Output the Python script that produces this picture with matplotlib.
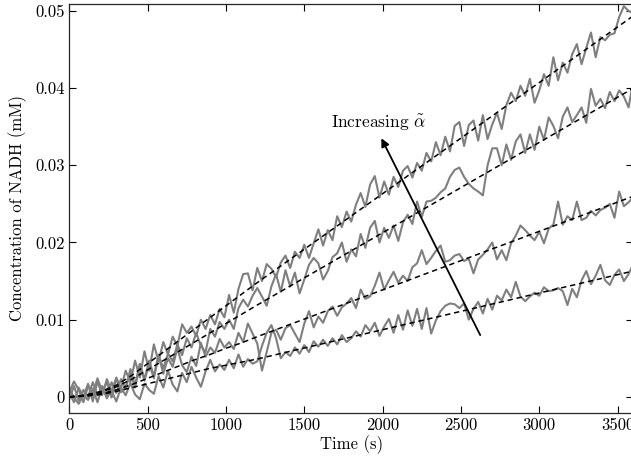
import numpy as np
import matplotlib
matplotlib.use("Agg")
import matplotlib.pyplot as plt

plt.rcParams['font.family'] = 'serif'
plt.rcParams['font.serif'] = ['cmr10']
plt.rcParams['mathtext.fontset'] = 'cm'
plt.rcParams['axes.formatter.use_mathtext'] = True
plt.rcParams['font.size'] = 12

# measured traces, sampled every 30 s
t = np.arange(0, 3601, 30)

nadh_a = [0.0005, -0.0007, 0.0012, 0.0000, 0.0017, -0.0006, 0.0020, 0.0002, 0.0023, 0.0007,
          0.0025, 0.0011, 0.0034, 0.0019, 0.0047, 0.0025, 0.0059, 0.0034, 0.0068, 0.0046,
          0.0071, 0.0055, 0.0078, 0.0066, 0.0094, 0.0083, 0.0091, 0.0079, 0.0100, 0.0088,
          0.0106, 0.0094, 0.0114, 0.0103, 0.0132, 0.0109, 0.0140, 0.0159, 0.0160, 0.0138,
          0.0167, 0.0150, 0.0172, 0.0166, 0.0155, 0.0174, 0.0183, 0.0167, 0.0188, 0.0180,
          0.0197, 0.0180, 0.0199, 0.0217, 0.0196, 0.0216, 0.0203, 0.0234, 0.0220, 0.0240,
          0.0227, 0.0249, 0.0264, 0.0246, 0.0275, 0.0286, 0.0258, 0.0279, 0.0262, 0.0285,
          0.0272, 0.0293, 0.0299, 0.0284, 0.0303, 0.0293, 0.0316, 0.0305, 0.0330, 0.0313,
          0.0337, 0.0318, 0.0351, 0.0356, 0.0325, 0.0352, 0.0358, 0.0332, 0.0365, 0.0334,
          0.0353, 0.0368, 0.0347, 0.0378, 0.0394, 0.0383, 0.0403, 0.0390, 0.0412, 0.0381,
          0.0397, 0.0418, 0.0403, 0.0440, 0.0410, 0.0433, 0.0420, 0.0444, 0.0457, 0.0431,
          0.0452, 0.0472, 0.0440, 0.0466, 0.0462, 0.0469, 0.0471, 0.0492, 0.0506, 0.0500,
          0.0497]

nadh_b = [-0.0003, 0.0014, -0.0005, 0.0009, 0.0000, 0.0019, 0.0002, 0.0014, -0.0002, 0.0019,
          0.0005, 0.0023, 0.0011, 0.0036, 0.0015, 0.0043, 0.0023, 0.0047, 0.0027, 0.0054,
          0.0037, 0.0056, 0.0046, 0.0068, 0.0054, 0.0076, 0.0064, 0.0083, 0.0066, 0.0058,
          0.0088, 0.0078, 0.0097, 0.0088, 0.0100, 0.0088, 0.0115, 0.0126, 0.0117, 0.0131,
          0.0141, 0.0130, 0.0118, 0.0143, 0.0159, 0.0136, 0.0164, 0.0143, 0.0161, 0.0134,
          0.0152, 0.0171, 0.0180, 0.0173, 0.0152, 0.0163, 0.0181, 0.0186, 0.0200, 0.0175,
          0.0191, 0.0182, 0.0211, 0.0193, 0.0219, 0.0228, 0.0200, 0.0219, 0.0206, 0.0222,
          0.0202, 0.0226, 0.0236, 0.0224, 0.0253, 0.0233, 0.0253, 0.0254, 0.0258, 0.0265,
          0.0270, 0.0285, 0.0294, 0.0297, 0.0285, 0.0276, 0.0270, 0.0266, 0.0261, 0.0300,
          0.0322, 0.0322, 0.0300, 0.0327, 0.0307, 0.0331, 0.0340, 0.0316, 0.0340, 0.0320,
          0.0350, 0.0333, 0.0362, 0.0351, 0.0335, 0.0363, 0.0375, 0.0356, 0.0365, 0.0375,
          0.0355, 0.0399, 0.0377, 0.0386, 0.0374, 0.0395, 0.0383, 0.0397, 0.0389, 0.0375,
          0.0409]

nadh_c = [0.0006, 0.0020, 0.0009, -0.0007, 0.0014, 0.0004, 0.0024, 0.0007, 0.0019, -0.0001,
          0.0024, 0.0006, 0.0012, 0.0031, 0.0012, 0.0041, 0.0021, 0.0043, 0.0024, 0.0054,
          0.0030, 0.0050, 0.0039, 0.0063, 0.0041, 0.0032, 0.0052, 0.0040, 0.0070, 0.0052,
          0.0064, 0.0057, 0.0075, 0.0064, 0.0071, 0.0062, 0.0083, 0.0071, 0.0095, 0.0082,
          0.0069, 0.0034, 0.0058, 0.0083, 0.0087, 0.0074, 0.0089, 0.0093, 0.0082, 0.0071,
          0.0095, 0.0111, 0.0090, 0.0104, 0.0096, 0.0111, 0.0117, 0.0105, 0.0116, 0.0121,
          0.0128, 0.0115, 0.0139, 0.0127, 0.0130, 0.0144, 0.0161, 0.0139, 0.0151, 0.0162,
          0.0148, 0.0157, 0.0150, 0.0168, 0.0173, 0.0190, 0.0172, 0.0180, 0.0189, 0.0196,
          0.0175, 0.0177, 0.0183, 0.0185, 0.0176, 0.0179, 0.0160, 0.0178, 0.0184, 0.0191,
          0.0200, 0.0178, 0.0190, 0.0177, 0.0199, 0.0209, 0.0222, 0.0216, 0.0209, 0.0203,
          0.0214, 0.0199, 0.0218, 0.0223, 0.0253, 0.0223, 0.0234, 0.0229, 0.0253, 0.0229,
          0.0232, 0.0241, 0.0235, 0.0242, 0.0245, 0.0250, 0.0232, 0.0266, 0.0247, 0.0252,
          0.0259]

nadh_d = [0.0012, -0.0001, -0.0009, 0.0002, -0.0004, 0.0011, -0.0007, 0.0013, -0.0001, 0.0008,
          -0.0006, 0.0012, 0.0002, 0.0018, 0.0003, -0.0003, 0.0017, 0.0009, 0.0004, 0.0027,
          0.0012, 0.0034, 0.0016, 0.0007, 0.0031, 0.0019, 0.0039, 0.0025, 0.0013, 0.0033,
          0.0048, 0.0033, 0.0042, 0.0035, 0.0048, 0.0037, 0.0055, 0.0039, 0.0049, 0.0043,
          0.0046, 0.0066, 0.0083, 0.0093, 0.0076, 0.0050, 0.0058, 0.0053, 0.0064, 0.0056,
          0.0067, 0.0058, 0.0072, 0.0065, 0.0074, 0.0066, 0.0076, 0.0068, 0.0080, 0.0071,
          0.0076, 0.0085, 0.0078, 0.0093, 0.0085, 0.0096, 0.0079, 0.0091, 0.0101, 0.0083,
          0.0106, 0.0087, 0.0112, 0.0092, 0.0114, 0.0088, 0.0115, 0.0082, 0.0099, 0.0111,
          0.0118, 0.0121, 0.0120, 0.0115, 0.0121, 0.0100, 0.0114, 0.0123, 0.0108, 0.0127,
          0.0113, 0.0131, 0.0125, 0.0139, 0.0129, 0.0149, 0.0130, 0.0124, 0.0130, 0.0135,
          0.0131, 0.0142, 0.0137, 0.0138, 0.0141, 0.0137, 0.0119, 0.0140, 0.0129, 0.0151,
          0.0163, 0.0146, 0.0157, 0.0171, 0.0151, 0.0145, 0.0158, 0.0165, 0.0150, 0.0159,
          0.0172]

# fitted model curves, every 100 s
t_fit = np.arange(0, 3601, 100)

fit_a = [0, 0.0002, 0.0007, 0.0015, 0.0028, 0.0043, 0.0058, 0.0073, 0.0088, 0.0103,
         0.0118, 0.0133, 0.0148, 0.01624, 0.01768, 0.01912, 0.02056, 0.0220, 0.02344, 0.02488,
         0.02632, 0.02776, 0.0292, 0.03064, 0.03208, 0.03352, 0.03496, 0.0364, 0.03784, 0.03928,
         0.04072, 0.04216, 0.0436, 0.04504, 0.04648, 0.04792, 0.04936]
fit_b = [0, 0.0002, 0.0006, 0.0013, 0.0023, 0.0035, 0.0047, 0.0059, 0.0071, 0.0083,
         0.0095, 0.0107, 0.0119, 0.01307, 0.01424, 0.01541, 0.01658, 0.01775, 0.01892, 0.02009,
         0.02126, 0.02243, 0.0236, 0.02477, 0.02594, 0.02711, 0.02828, 0.02945, 0.03062, 0.03179,
         0.03296, 0.03413, 0.0353, 0.03647, 0.03764, 0.03881, 0.03998]
fit_c = [0, 0.0001, 0.0004, 0.0009, 0.0016, 0.0024, 0.0032, 0.0040, 0.0048, 0.0055,
         0.0063, 0.0070, 0.0078, 0.00856, 0.00932, 0.01007, 0.01083, 0.01159, 0.01235, 0.0131,
         0.01386, 0.01462, 0.01538, 0.01614, 0.01689, 0.01765, 0.01841, 0.01917, 0.01992, 0.02068,
         0.02144, 0.0222, 0.02296, 0.02371, 0.02447, 0.02523, 0.02599]
fit_d = [0, 0.0001, 0.0003, 0.0007, 0.0012, 0.0017, 0.0022, 0.0027, 0.0032, 0.0037,
         0.0041, 0.0045, 0.0049, 0.00538, 0.00585, 0.00633, 0.0068, 0.00728, 0.00775, 0.00823,
         0.0087, 0.00918, 0.00965, 0.01013, 0.0106, 0.01108, 0.01155, 0.01203, 0.0125, 0.01298,
         0.01345, 0.01393, 0.0144, 0.01488, 0.01535, 0.01583, 0.0163]

xticks = [0, 500, 1000, 1500, 2000, 2500, 3000, 3500]
yticks = [0, 0.01, 0.02, 0.03, 0.04, 0.05]
ytick_labels = ['0', '0.01', '0.02', '0.03', '0.04', '0.05']

fig = plt.figure(figsize=(6.31, 4.65), dpi=100)
ax = fig.add_axes([0.1098, 0.1125, 0.8938, 0.879])

for series in [nadh_a, nadh_b, nadh_c, nadh_d]:
    assert len(series) == len(t)
    ax.plot(t, series, color='#7f7f7f', lw=1.5)
for fit in [fit_a, fit_b, fit_c, fit_d]:
    ax.plot(t_fit, fit, color='black', lw=1.1, ls=(0, (3.5, 2.5)))

# arrow + label
ax.annotate('', xy=(1992, 0.0335), xytext=(2623, 0.0080),
            arrowprops=dict(arrowstyle='-|>', color='black', lw=1.3,
                            mutation_scale=12, shrinkA=0, shrinkB=0))
ax.text(1972, 0.0342, r'Increasing $\tilde{\alpha}$', ha='center', va='bottom', fontsize=12.5)

ax.set_xlim(0, 3600)
ax.set_ylim(-0.00205, 0.0509)
ax.set_xticks(xticks)
ax.set_xticklabels([str(v) for v in xticks])
ax.set_yticks(yticks)
ax.set_yticklabels(ytick_labels)
ax.tick_params(direction='in', top=True, right=True, length=5, width=0.8)
for s in ax.spines.values():
    s.set_linewidth(0.9)
    s.set_color('#262626')
ax.set_xlabel('Time (s)', labelpad=2)
ax.set_ylabel('Concentration of NADH (mM)', labelpad=6)

fig.savefig('out.png', dpi=100)
